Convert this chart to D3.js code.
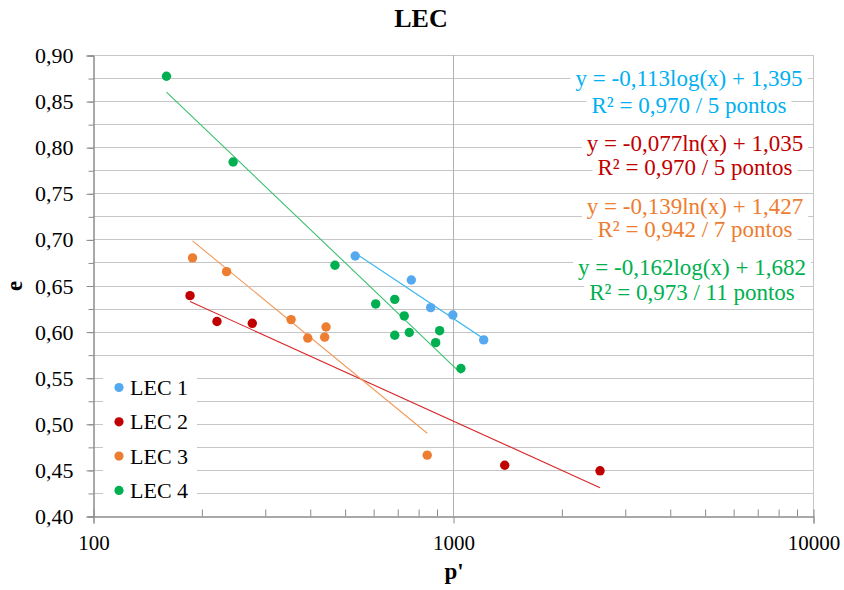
<!DOCTYPE html>
<html>
<head>
<meta charset="utf-8">
<script src="https://cdn.jsdelivr.net/npm/d3@7"></script>
<style>
  body { margin: 0; background: #fff; }
  svg text { font-family: "Liberation Serif", "Times New Roman", serif; }
</style>
</head>
<body>
<div id="chart"></div>
<script>
// data
var seriesNames = ["LEC 1", "LEC 2", "LEC 3", "LEC 4"];
var lec1X = [535, 766, 867, 999, 1217],
	lec1Y = [0.682, 0.656, 0.626, 0.618, 0.591];
var lec2X = [186, 221, 277, 1392, 2561],
	lec2Y = [0.639, 0.611, 0.609, 0.455, 0.449];
var lec3X = [189, 235, 355, 395, 440, 444, 848],
	lec3Y = [0.680, 0.665, 0.613, 0.593, 0.594, 0.605, 0.466];
var lec4X = [160, 245, 470, 610, 689, 732, 689, 756, 918, 895, 1052],
	lec4Y = [0.877, 0.784, 0.672, 0.630, 0.635, 0.617, 0.596, 0.599, 0.601, 0.588, 0.560];

// trendline y = a*ln(x) + b
var slopes = [-0.113, -0.077, -0.139, -0.162],
	intercepts = [1.395, 1.035, 1.427, 1.682];
var eqLines = [
	["y = -0,113log(x) + 1,395", "R² = 0,970 / 5 pontos"],
	["y = -0,077ln(x) + 1,035", "R² = 0,970 / 5 pontos"],
	["y = -0,139ln(x) + 1,427", "R² = 0,942 / 7 pontos"],
	["y = -0,162log(x) + 1,682", "R² = 0,973 / 11 pontos"]
];
var xTicks = [100, 1000, 10000],
	yTicks = [0.40, 0.45, 0.50, 0.55, 0.60, 0.65, 0.70, 0.75, 0.80, 0.85, 0.90];

var dotColors = ["#55a9ee", "#c00000", "#ed7d31", "#00b050"],
	lineColors = ["#2fb4f0", "#d8262a", "#f29a5a", "#3cbf6e"],
	textColors = ["#00b0f0", "#c00000", "#ed7d31", "#00b050"];

var serif = '"Liberation Serif", "Times New Roman", serif';

// label placement: centre x, baseline of 1st line, line gap
var labelPos = [[689, 86, 27], [695, 151, 24], [695, 214, 23], [692, 275, 25]];

var width = 844,
	height = 590;

var svg = d3.select("#chart").append("svg")
	.attr("width", width)
	.attr("height", height);

var x = d3.scaleLog().domain([100, 10000]).range([93, 813]);
var y = d3.scaleLinear().domain([0.40, 0.90]).range([516, 55]);

var seriesX = [lec1X, lec2X, lec3X, lec4X],
	seriesY = [lec1Y, lec2Y, lec3Y, lec4Y];

// grid
var minorY = d3.range(0, 21).map(function(i) { return 0.40 + i * 0.025; });
svg.append("g").selectAll("line")
	.data(minorY.slice(1)).enter()
	.append("line")
	.attr("x1", 93).attr("x2", 813)
	.attr("y1", function(d) { return Math.round(y(d)) + 0.5; })
	.attr("y2", function(d) { return Math.round(y(d)) + 0.5; })
	.attr("stroke", "#c6c6c6");

svg.append("line")
	.attr("x1", Math.round(x(1000)) + 0.5).attr("x2", Math.round(x(1000)) + 0.5)
	.attr("y1", 55).attr("y2", 516)
	.attr("stroke", "#b0b0b0");

svg.append("line")
	.attr("x1", 813.5).attr("x2", 813.5)
	.attr("y1", 55).attr("y2", 516)
	.attr("stroke", "#c6c6c6");

// axes
var fmtY = function(d) { return d3.format(".2f")(d).replace(".", ","); };

svg.append("g").attr("transform", "translate(93.5,0.5)")
	.call(d3.axisLeft(y).tickValues(minorY).tickSize(5).tickFormat(""));
var yAxis = svg.append("g").attr("transform", "translate(93.5,0.5)")
	.call(d3.axisLeft(y).tickValues(yTicks).tickSize(7).tickFormat(fmtY));
yAxis.attr("font-family", null);
yAxis.selectAll("text").attr("x", -20)
	.style("font-family", serif).style("font-size", "22px").attr("fill", "#000");

var minorX = [];
[100, 1000].forEach(function(dec) {
	for (var k = 2; k <= 9; k++) minorX.push(dec * k);
});
svg.append("g").attr("transform", "translate(0.5,516.5)")
	.call(d3.axisBottom(x).tickValues(minorX).tickSize(-7).tickFormat(""));
var xAxis = svg.append("g").attr("transform", "translate(0.5,516.5)")
	.call(d3.axisBottom(x).tickValues(xTicks).tickSize(7).tickFormat(d3.format("d")));
xAxis.attr("font-family", null);
xAxis.selectAll("text").attr("y", 33).attr("dy", 0)
	.style("font-family", serif).style("font-size", "21px").attr("fill", "#000");

svg.selectAll(".domain, .tick line").attr("stroke", "#8c8c8c");

// trend lines
seriesX.forEach(function(xs, i) {
	var lo = d3.min(xs), hi = d3.max(xs);
	svg.append("line")
		.attr("x1", x(lo)).attr("y1", y(slopes[i] * Math.log(lo) + intercepts[i]))
		.attr("x2", x(hi)).attr("y2", y(slopes[i] * Math.log(hi) + intercepts[i]))
		.attr("stroke", lineColors[i])
		.attr("stroke-width", 1.1);
});

// points
seriesX.forEach(function(xs, i) {
	svg.append("g").selectAll("circle")
		.data(xs).enter()
		.append("circle")
		.attr("cx", function(d) { return x(d); })
		.attr("cy", function(d, j) { return y(seriesY[i][j]); })
		.attr("r", 4.7)
		.attr("fill", dotColors[i]);
});

// equation labels with white background
eqLines.forEach(function(lines, i) {
	var g = svg.append("g");
	lines.forEach(function(t, j) {
		var txt = g.append("text")
			.attr("x", labelPos[i][0])
			.attr("y", labelPos[i][1] + j * labelPos[i][2])
			.attr("text-anchor", "middle")
			.attr("fill", textColors[i])
			.style("font-size", "23px")
			.text(t);
		var bb = txt.node().getBBox();
		g.insert("rect", "text")
			.attr("x", bb.x - 5).attr("y", bb.y + 2)
			.attr("width", bb.width + 10).attr("height", bb.height - 2)
			.attr("fill", "#fff");
	});
});

// legend
svg.append("rect")
	.attr("x", 103).attr("y", 366).attr("width", 94).attr("height", 138)
	.attr("fill", "#fff");
var legend = svg.append("g").selectAll("g")
	.data(seriesNames).enter()
	.append("g")
	.attr("transform", function(d, i) { return "translate(119," + (387.5 + i * 34.3) + ")"; });
legend.append("circle").attr("r", 4.6).attr("fill", function(d, i) { return dotColors[i]; });
legend.append("text")
	.attr("x", 11).attr("dy", "0.34em")
	.style("font-size", "22px")
	.text(function(d) { return d; });

// titles
svg.append("text")
	.attr("x", 421).attr("y", 27)
	.attr("text-anchor", "middle")
	.style("font-size", "26px").style("font-weight", "bold")
	.text("LEC");
svg.append("text")
	.attr("x", 454).attr("y", 579)
	.attr("text-anchor", "middle")
	.style("font-size", "23px").style("font-weight", "bold")
	.text("p'");
svg.append("text")
	.attr("transform", "translate(22,286) rotate(-90)")
	.attr("text-anchor", "middle")
	.style("font-size", "23px").style("font-weight", "bold")
	.text("e");
</script>
</body>
</html>
